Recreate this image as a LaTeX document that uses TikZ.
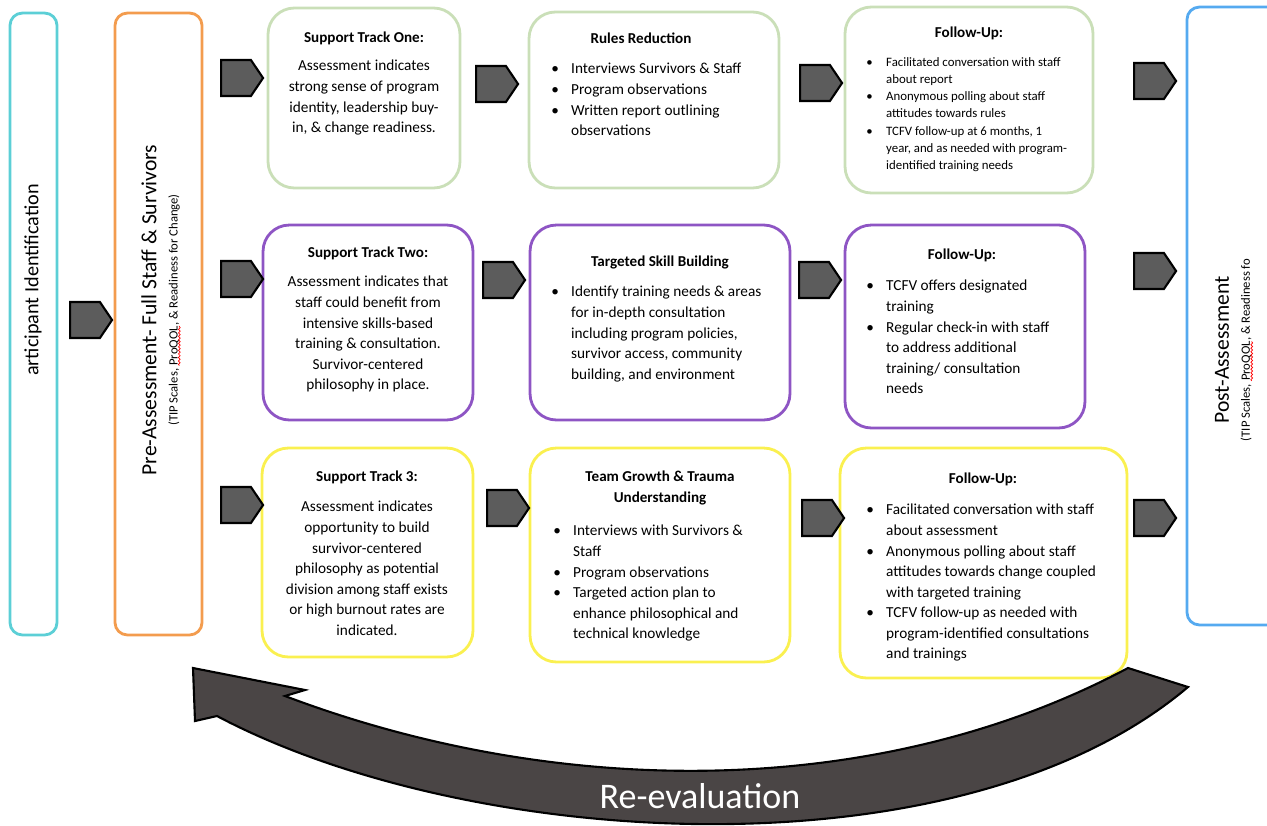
\documentclass[tikz,border=0pt]{standalone}
\usepackage{fontspec}
\setmainfont{Carlito}
\usetikzlibrary{shapes.symbols, positioning, decorations.pathmorphing}
\definecolor{IdCyan}{HTML}{5CCFD6}
\definecolor{PreOrange}{HTML}{F39C4E}
\definecolor{PostBlue}{HTML}{55AAF0}
\definecolor{OneGreen}{HTML}{CADFB8}
\definecolor{TwoPurple}{HTML}{8E55C4}
\definecolor{ThreeYellow}{HTML}{FAF050}
\definecolor{PentGray}{HTML}{5C5C5C}
\definecolor{LoopGray}{HTML}{4A4545}
\newcommand\bodyfont{\fontsize{8.7}{11.7}\selectfont}
\newcommand\smallfont{\fontsize{7.3}{9.8}\selectfont}
\newcommand\titlefont{\fontsize{8.6}{11.7}\selectfont\bfseries}
\newcommand\bul{\makebox[11.3pt][l]{\textbullet}}
\newcommand\ind{\hspace*{11.3pt}}
\newcommand\squig[1]{\tikz[baseline=(w.base)]{\node[inner sep=0pt, outer sep=0pt] (w) {#1};
  \draw[red, line width=0.4pt, decorate, decoration={snake, amplitude=0.5pt, segment length=2pt}]
    ([yshift=-1pt]w.base west) -- ([yshift=-1pt]w.base east);}}
\tikzset{
  sidebox/.style={rectangle, rounded corners=7pt, line width=1.6pt},
  trackbox/.style={rectangle, rounded corners=15pt, line width=1.6pt},
  pentarrow/.style={signal, signal to=east, signal pointer angle=112, draw=black, fill=PentGray, line width=1.2pt, minimum width=0.84cm, minimum height=0.72cm, inner sep=0pt},
  titletext/.style={font=\titlefont, inner sep=0pt, align=center},
  centertext/.style={font=\bodyfont, align=center, anchor=north, inner sep=0pt},
  bullettext/.style={font=\bodyfont, align=left, anchor=north west, inner sep=0pt},
  sidetext/.style={rotate=90, align=center, inner sep=0pt},
  loop/.style={draw=black, fill=LoopGray, line width=1.2pt, line join=miter}
}
\begin{document}
\begin{tikzpicture}[x=0.02cm, y=-0.02cm]
  \useasboundingbox (0,0) rectangle (1267,825);

  % side columns
  \node[sidebox, draw=IdCyan, minimum width=0.94cm, minimum height=12.44cm] (ident) at (33.5,324) {};
  \node[sidebox, draw=PreOrange, minimum width=1.74cm, minimum height=12.44cm] (pre) at (158.5,324) {};
  \node[sidebox, draw=PostBlue, minimum width=1.96cm, minimum height=12.36cm] (post) at (1236,316) {};
  \node[sidetext, font=\fontsize{11.5}{14}\selectfont] (identtxt) at (33,280) {articipant Identification};
  \node[sidetext] (pretxt) at (161,310) {{\fontsize{12.3}{15.5}\selectfont Pre-Assessment- Full Staff \& Survivors}\\
    {\fontsize{7.2}{9}\selectfont (TIP Scales, \squig{ProQOL}, \& Readiness for Change)}};
  \node[sidetext] (posttxt) at (1234,350) {{\fontsize{12.3}{15.5}\selectfont Post-Assessment}\\
    {\fontsize{7.2}{9}\selectfont (TIP Scales, \squig{ProQOL}, \& Readiness fo}};

  % track one
  \node[trackbox, draw=OneGreen, minimum width=3.84cm, minimum height=3.6cm] (one) at (364,98) {};
  \node[titletext] (onetitle) at (364,38) {Support Track One:};
  \node[centertext] (onetxt) at (364,60) {Assessment indicates\\strong sense of program\\identity, leadership buy-\\in, \& change readiness.};
  \node[trackbox, draw=OneGreen, minimum width=5cm, minimum height=3.52cm] (rules) at (654,100) {};
  \node[titletext] (rulestitle) at (641,38) {Rules Reduction};
  \node[bullettext] (rulestxt) at (551,63) {\bul Interviews Survivors \& Staff\\\bul Program observations\\\bul Written report outlining\\\ind observations};
  \node[trackbox, draw=OneGreen, minimum width=4.96cm, minimum height=3.72cm] (fupone) at (969,100) {};
  \node[titletext] (fuponetitle) at (969,33) {Follow-Up:};
  \node[bullettext, font=\smallfont] (fuponetxt) at (866,57) {\bul Facilitated conversation with staff\\\ind about report\\\bul Anonymous polling about staff\\\ind attitudes towards rules\\\bul TCFV follow-up at 6 months, 1\\\ind year, and as needed with program-\\\ind identified training needs};

  % track two
  \node[trackbox, draw=TwoPurple, minimum width=4.2cm, minimum height=3.9cm] (two) at (368,322.5) {};
  \node[titletext] (twotitle) at (368,253) {Support Track Two:};
  \node[centertext] (twotxt) at (368,276) {Assessment indicates that\\staff could benefit from\\intensive skills-based\\training \& consultation.\\Survivor-centered\\philosophy in place.};
  \node[trackbox, draw=TwoPurple, minimum width=5.2cm, minimum height=3.9cm] (skill) at (660,322.5) {};
  \node[titletext] (skilltitle) at (660,262) {Targeted Skill Building};
  \node[bullettext] (skilltxt) at (551,286) {\bul Identify training needs \& areas\\\ind for in-depth consultation\\\ind including program policies,\\\ind survivor access, community\\\ind building, and environment};
  \node[trackbox, draw=TwoPurple, minimum width=4.8cm, minimum height=4.06cm] (fuptwo) at (965,326.5) {};
  \node[titletext] (fuptwotitle) at (962,255) {Follow-Up:};
  \node[bullettext] (fuptwotxt) at (866,280) {\bul TCFV offers designated\\\ind training\\\bul Regular check-in with staff\\\ind to address additional\\\ind training/ consultation\\\ind needs};

  % track three
  \node[trackbox, draw=ThreeYellow, minimum width=4.22cm, minimum height=4.18cm] (three) at (367.5,552.5) {};
  \node[titletext] (threetitle) at (367,477) {Support Track 3:};
  \node[centertext] (threetxt) at (367,501) {Assessment indicates\\opportunity to build\\survivor-centered\\philosophy as potential\\division among staff exists\\or high burnout rates are\\indicated.};
  \node[trackbox, draw=ThreeYellow, minimum width=5.2cm, minimum height=4.28cm] (growth) at (660,555) {};
  \node[titletext] (growthtitle) at (660,488) {Team Growth \& Trauma\\Understanding};
  \node[bullettext] (growthtxt) at (553,525) {\bul Interviews with Survivors \&\\\ind Staff\\\bul Program observations\\\bul Targeted action plan to\\\ind enhance philosophical and\\\ind technical knowledge};
  \node[trackbox, draw=ThreeYellow, minimum width=5.74cm, minimum height=4.6cm] (fupthree) at (983.5,563) {};
  \node[titletext] (fupthreetitle) at (983,479) {Follow-Up:};
  \node[bullettext] (fupthreetxt) at (866,504) {\bul Facilitated conversation with staff\\\ind about assessment\\\bul Anonymous polling about staff\\\ind attitudes towards change coupled\\\ind with targeted training\\\bul TCFV follow-up as needed with\\\ind program-identified consultations\\\ind and trainings};

  % pentagon arrows
  \node[pentarrow] (pmid) at (85,320) {};
  \foreach \x/\y/\n in {236/78/a1, 236/279/a2, 236/505/a3,
                        491/84/b1, 498/280/b2, 502/508/b3,
                        815/83/c1, 814/280/c2, 817/518/c3,
                        1149/81/d1, 1149/271/d2, 1149/518/d3}
    \node[pentarrow] (\n) at (\x,\y) {};

  % re-evaluation loop
  \draw[loop] (193,668) -- (305,690) -- (285,696)
    .. controls (560,800) and (880,800) .. (1128,668) -- (1188,687)
    .. controls (960,880) and (470,850) .. (217,716) -- (195,721) -- cycle;
  \node[font=\fontsize{20.5}{22}\selectfont, text=white] (reeval) at (700,796) {Re-evaluation};
\end{tikzpicture}
\end{document}
